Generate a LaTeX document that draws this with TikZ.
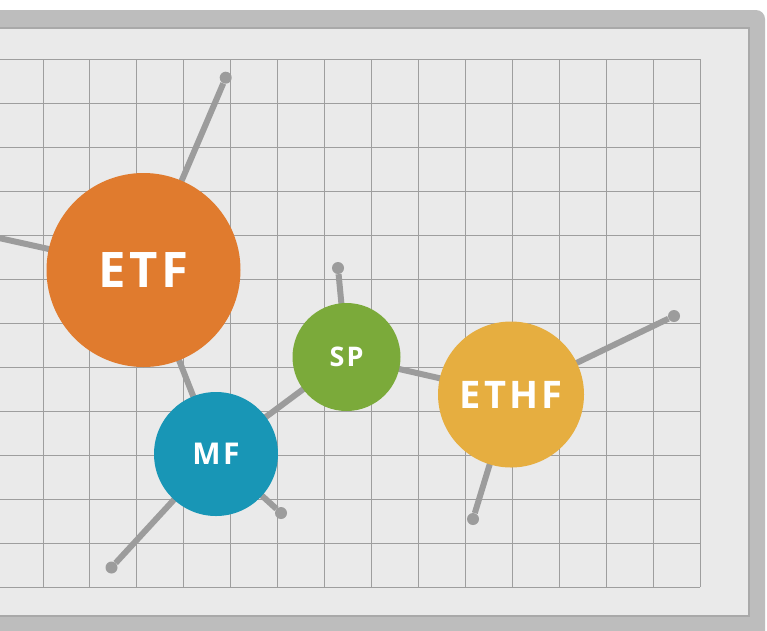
\documentclass[tikz,border=0pt]{standalone}
\usepackage{fontspec}
\newfontfamily\hubfont{Open Sans}[LetterSpace=8]
\pgfdeclarelayer{back}
\pgfdeclarelayer{links}
\pgfsetlayers{back,links,main}
\definecolor{framegray}{HTML}{BDBDBD}
\definecolor{panelgray}{HTML}{EAEAEA}
\definecolor{paneledge}{HTML}{A9A9A9}
\definecolor{gridgray}{HTML}{9E9E9E}
\definecolor{linkgray}{HTML}{9C9C9C}
\definecolor{etfc}{HTML}{E07B2E}
\definecolor{mfc}{HTML}{1896B6}
\definecolor{spc}{HTML}{7BAA3A}
\definecolor{ethfc}{HTML}{E6AE40}
\tikzset{
  hub/.style={circle, inner sep=0pt, text=white},
  enddot/.style={circle, fill=linkgray, inner sep=0pt, minimum size=12pt},
  link/.style={draw=linkgray, line width=6pt},
  gridline/.style={draw=gridgray, line width=0.9pt}
}
\begin{document}
\begin{tikzpicture}[x=1pt,y=-1pt]
\useasboundingbox (0,0) rectangle (767,630);
\clip (0,0) rectangle (767,630);
\begin{pgfonlayer}{back}
\fill[white] (0,0) rectangle (767,630);
\fill[framegray, rounded corners=9pt] (-30,10) rectangle (765,660);
\fill[panelgray] (0,28) rectangle (749,616);
\draw[paneledge, line width=1.5pt] (0,28) -- (749,28) -- (749,616) -- (0,616);
\foreach \i in {0,...,14} \draw[gridline] ({43+46.93*\i},59) -- ({43+46.93*\i},587);
\foreach \j in {0,...,12} \draw[gridline] (0,{59+44*\j}) -- (700,{59+44*\j});
\end{pgfonlayer}

% hubs
\node[hub, fill=etfc, minimum size=194pt, font=\hubfont\fontsize{49}{49}\selectfont\bfseries] (etf) at (143.5,270) {\raisebox{-3pt}{ETF}};
\node[hub, fill=mfc, minimum size=124pt, font=\hubfont\fontsize{30}{30}\selectfont\bfseries] (mf) at (216,454) {\raisebox{-1pt}{MF}};
\node[hub, fill=spc, minimum size=108pt, font=\hubfont\fontsize{27}{27}\selectfont\bfseries] (sp) at (346.5,357) {SP};
\node[hub, fill=ethfc, minimum size=146pt, font=\hubfont\fontsize{38}{38}\selectfont\bfseries] (ethf) at (511,394.5) {ETHF};

% end dots
\node[enddot] (etftop) at (225.7,77.7) {};
\coordinate (etfleft) at (-10,236);
\node[enddot] (sptop) at (338,268) {};
\node[enddot] (mfsw) at (111.5,567.5) {};
\node[enddot] (mfse) at (281,513) {};
\node[enddot] (ethfne) at (674,316) {};
\node[enddot] (ethfs) at (473,519) {};

\begin{pgfonlayer}{links}
\draw[link] (etf.center) -- (etftop);
\draw[link] (etf.center) -- (etfleft);
\draw[link] (etf.center) -- (mf.center);
\draw[link] (mf.center) -- (sp.center);
\draw[link] (sp.center) -- (ethf.center);
\draw[link] (sp.center) -- (sptop);
\draw[link] (mf.center) -- (mfsw);
\draw[link] (mf.center) -- (mfse);
\draw[link] (ethf.center) -- (ethfne);
\draw[link] (ethf.center) -- (ethfs);
\end{pgfonlayer}
\end{tikzpicture}
\end{document}
